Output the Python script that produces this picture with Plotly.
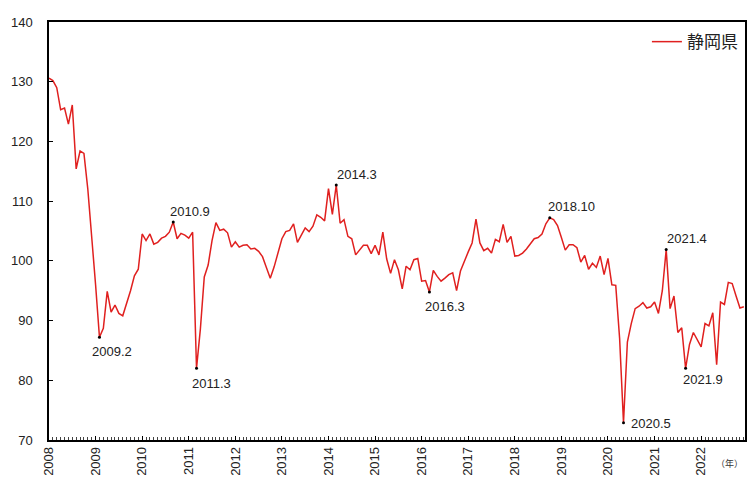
import plotly.graph_objects as go

series_name = "静岡県"
start_year = 2008
values = [
    130.6, 130.2, 129.0, 125.3, 125.6, 122.9, 126.1, 115.4, 118.4, 118.0, 112.0, 104.5,
    96.0, 87.2, 88.7, 94.9, 91.4, 92.6, 91.2, 90.8, 92.8, 95.0, 97.5, 98.6,
    104.5, 103.4, 104.5, 102.8, 103.1, 103.8, 104.1, 104.8, 106.5, 103.7, 104.6, 104.3,
    103.8, 104.8, 82.0, 88.6, 97.3, 99.3, 103.4, 106.4, 105.1, 105.3, 104.7, 102.3,
    103.2, 102.3, 102.6, 102.7, 102.0, 102.1, 101.6, 100.7, 98.9, 97.1, 99.0, 101.5,
    103.7, 104.9, 105.1, 106.2, 103.1, 104.3, 105.5, 104.9, 105.8, 107.7, 107.3, 106.7,
    112.1, 107.8, 112.7, 106.3, 106.9, 104.1, 103.7, 101.0, 101.8, 102.6, 102.6, 101.2,
    102.6, 101.0, 104.8, 100.3, 97.9, 100.2, 98.5, 95.3, 99.1, 98.5, 100.2, 100.4,
    96.6, 96.7, 94.8, 98.4, 97.4, 96.6, 97.1, 97.7, 98.0, 95.0, 98.3, 100.0,
    101.5, 103.0, 107.0, 103.0, 101.7, 102.1, 101.3, 103.6, 103.2, 106.1, 103.1, 104.1,
    100.8, 100.9, 101.3, 102.0, 102.8, 103.7, 103.9, 104.5, 106.2, 107.2, 106.9, 105.9,
    103.9, 101.8, 102.7, 102.7, 102.2, 99.8, 100.9, 98.6, 99.6, 98.9, 100.8, 97.7,
    100.4, 96.0, 95.9, 87.0, 72.9, 86.4, 89.5, 92.0, 92.4, 93.0, 92.1, 92.3,
    93.1, 91.2, 95.0, 101.9, 92.0, 94.1, 88.0, 88.8, 82.0, 86.0, 88.0, 86.7,
    85.6, 89.5, 89.1, 91.3, 82.6, 93.1, 92.7, 96.4, 96.2, 94.1, 92.1, 92.3,
]
year_labels = ["2008", "2009", "2010", "2011", "2012", "2013", "2014", "2015",
               "2016", "2017", "2018", "2019", "2020", "2021", "2022"]
y_ticks = [70, 80, 90, 100, 110, 120, 130, 140]
marked_points = ["2009.2", "2010.9", "2011.3", "2014.3", "2016.3",
                 "2018.10", "2020.5", "2021.4", "2021.9"]
# label offsets in pixels (style only)
label_shifts = [(13, -14), (17, 11), (15, -15), (21, 11), (16, -15),
                (22, 11), (27, -1), (21, 11), (17, -11)]

x = list(range(len(values)))

def idx(label):
    yy, mm = label.split(".")
    return (int(yy) - start_year) * 12 + int(mm) - 1

mx = [idx(p) for p in marked_points]
my = [values[i] for i in mx]

FONT = "Liberation Sans, Arial, Noto Sans CJK JP, sans-serif"
RED = "#e0201f"

fig = go.Figure()
fig.add_trace(go.Scatter(x=x, y=values, mode="lines", name=series_name,
                         line=dict(color=RED, width=1.5)))
fig.add_trace(go.Scatter(x=mx, y=my, mode="markers", showlegend=False,
                         marker=dict(color="black", size=3), hoverinfo="skip"))

for p, xi, yi, (dx, dy) in zip(marked_points, mx, my, label_shifts):
    fig.add_annotation(x=xi, y=yi, text=p, showarrow=False, xshift=dx, yshift=dy,
                       font=dict(size=13, color="#222", family=FONT))

fig.add_annotation(xref="paper", yref="paper", x=1.0, y=-0.035, text="（年）",
                   showarrow=False, xanchor="right", yanchor="top",
                   font=dict(size=9, color="#333", family="Noto Sans CJK JP"))

fig.update_layout(
    width=750, height=479,
    margin=dict(l=49, r=3, t=22, b=37),
    paper_bgcolor="white", plot_bgcolor="white",
    font=dict(family=FONT, size=13, color="#222"),
    showlegend=True,
    legend=dict(x=0.997, y=0.995, xanchor="right", yanchor="top",
                bgcolor="rgba(0,0,0,0)", itemwidth=30,
                font=dict(size=17, family="Noto Sans CJK JP", color="#222")),
)
fig.update_xaxes(
    range=[0, 179.3], showgrid=False, zeroline=False,
    showline=True, linecolor="black", linewidth=1.5, mirror=True,
    tickmode="array", tickvals=[i * 12 for i in range(len(year_labels))],
    ticktext=year_labels, tickangle=-90, ticks="inside", ticklen=4,
    tickcolor="black", tickfont=dict(size=13, family=FONT),
    minor=dict(ticks="inside", dtick=1, tick0=0, ticklen=3, tickcolor="#444"),
)
fig.update_yaxes(
    range=[70, 140], showgrid=False, zeroline=False,
    showline=True, linecolor="black", linewidth=1.5, mirror=True,
    tickmode="array", tickvals=y_ticks, ticks="inside", ticklen=4,
    tickcolor="black", tickfont=dict(size=13, family=FONT),
    ticklabelstandoff=12,
)

fig.write_html("out.html", config={"displayModeBar": False},
               post_script="document.body.style.margin='0';")
